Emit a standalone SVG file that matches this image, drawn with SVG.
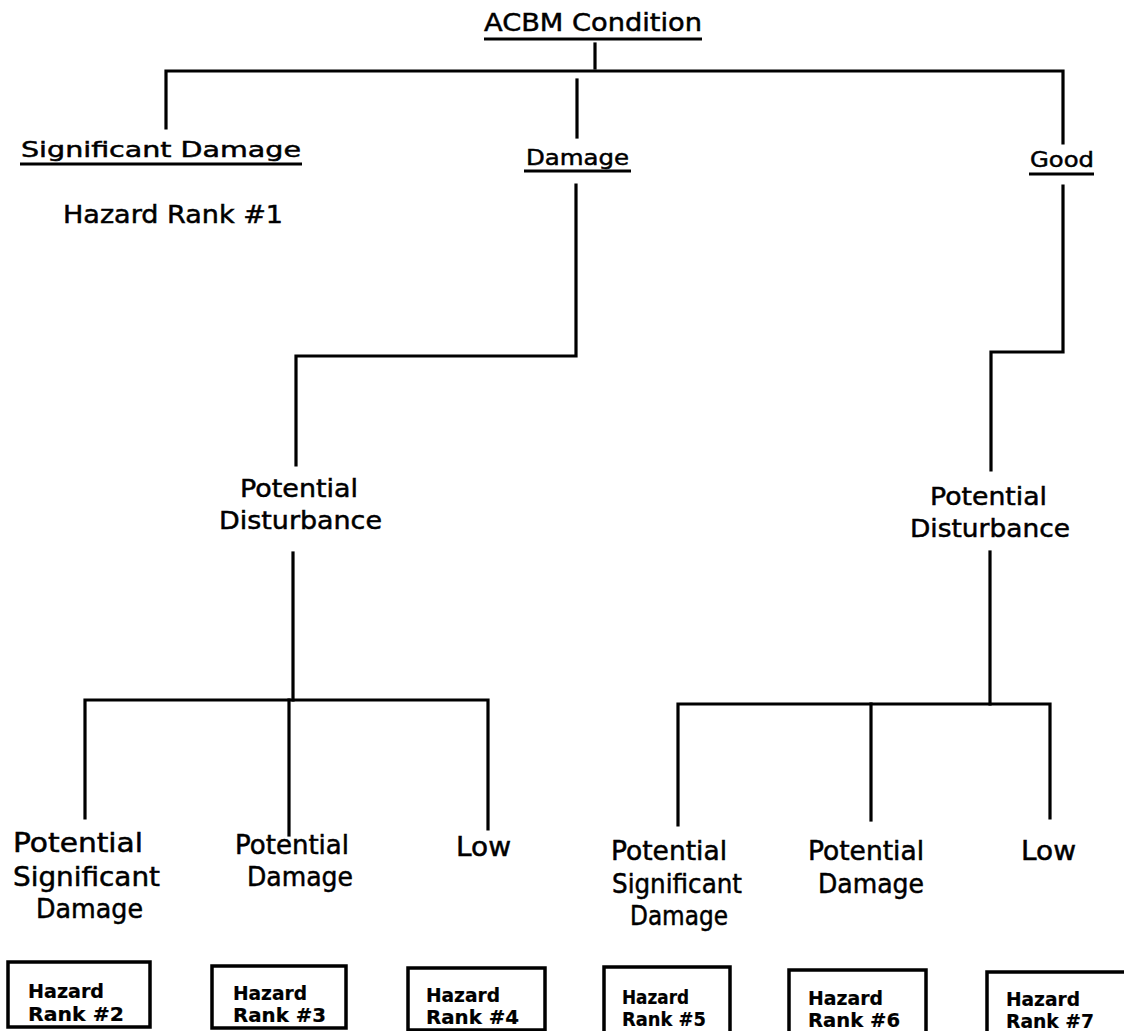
<svg xmlns="http://www.w3.org/2000/svg" width="1124" height="1031" viewBox="0 0 1124 1031">
<style>
.t{font-family:"DejaVu Sans","Liberation Sans",sans-serif;fill:#000;stroke:#000;stroke-width:0.5;}
.h{font-size:25px;}
.s{font-size:22px;}
.m{font-size:25px;}
.l{font-size:26px;}
.b{font-size:19px;font-weight:bold;stroke-width:0.2;}
.ln{fill:none;stroke:#000;stroke-width:3.2;stroke-linecap:square;}
.ul{fill:none;stroke:#000;stroke-width:2.8;}
.box{fill:#fff;stroke:#000;stroke-width:3.5;}
</style>
<rect width="1124" height="1031" fill="#fff"/>
<g id="connectors">
<path class="ln" d="M595 44 V68"/>
<path class="ln" d="M166 128 V71 H1063 V143"/>
<path class="ln" d="M577 80 V137"/>
<path class="ln" d="M576 185 V356 H296 V465"/>
<path class="ln" d="M293 553 V700"/>
<path class="ln" d="M85 818 V700 H488 V829"/>
<path class="ln" d="M289 700 V835"/>
<path class="ln" d="M1063 186 V352 H991 V470"/>
<path class="ln" d="M990 552 V704"/>
<path class="ln" d="M678 825 V704 H1050 V818"/>
<path class="ln" d="M871 704 V820"/>
</g>
<g id="acbm">
<text class="t h" x="484" y="31" textLength="218" lengthAdjust="spacingAndGlyphs">ACBM Condition</text>
<path class="ul" d="M484 39 H702"/>
</g>
<g id="significant-damage">
<text class="t s" x="21" y="157" textLength="280" lengthAdjust="spacingAndGlyphs">Significant Damage</text>
<path class="ul" d="M20 164 H302"/>
</g>
<g id="hazard-rank-1">
<text class="t m" x="63" y="223" textLength="220" lengthAdjust="spacingAndGlyphs">Hazard Rank #1</text>
</g>
<g id="damage">
<text class="t s" x="526" y="165" textLength="103" lengthAdjust="spacingAndGlyphs">Damage</text>
<path class="ul" d="M524 171 H631"/>
</g>
<g id="good">
<text class="t s" x="1030" y="167" textLength="64" lengthAdjust="spacingAndGlyphs">Good</text>
<path class="ul" d="M1029 174 H1094"/>
</g>
<g id="pd-left">
<text class="t m" x="240" y="497" textLength="118" lengthAdjust="spacingAndGlyphs">Potential</text>
<text class="t m" x="219" y="529" textLength="163" lengthAdjust="spacingAndGlyphs">Disturbance</text>
</g>
<g id="pd-right">
<text class="t m" x="930" y="505" textLength="117" lengthAdjust="spacingAndGlyphs">Potential</text>
<text class="t m" x="910" y="537" textLength="160" lengthAdjust="spacingAndGlyphs">Disturbance</text>
</g>
<g id="psd-left">
<text class="t l" x="13" y="852" textLength="130" lengthAdjust="spacingAndGlyphs">Potential</text>
<text class="t l" x="13" y="886" textLength="147" lengthAdjust="spacingAndGlyphs">Significant</text>
<text class="t l" x="36" y="918" textLength="107" lengthAdjust="spacingAndGlyphs">Damage</text>
</g>
<g id="pdam-left">
<text class="t l" x="235" y="854" textLength="114" lengthAdjust="spacingAndGlyphs">Potential</text>
<text class="t l" x="247" y="886" textLength="106" lengthAdjust="spacingAndGlyphs">Damage</text>
</g>
<g id="low-left">
<text class="t l" x="456" y="856" textLength="55" lengthAdjust="spacingAndGlyphs">Low</text>
</g>
<g id="psd-right">
<text class="t l" x="611" y="860" textLength="116" lengthAdjust="spacingAndGlyphs">Potential</text>
<text class="t l" x="612" y="893" textLength="130" lengthAdjust="spacingAndGlyphs">Significant</text>
<text class="t l" x="630" y="925" textLength="98" lengthAdjust="spacingAndGlyphs">Damage</text>
</g>
<g id="pdam-right">
<text class="t l" x="808" y="860" textLength="116" lengthAdjust="spacingAndGlyphs">Potential</text>
<text class="t l" x="818" y="893" textLength="106" lengthAdjust="spacingAndGlyphs">Damage</text>
</g>
<g id="low-right">
<text class="t l" x="1021" y="860" textLength="55" lengthAdjust="spacingAndGlyphs">Low</text>
</g>
<g id="rank2">
<rect class="box" x="8" y="962" width="142" height="65"/>
<text class="t b" x="28" y="998" textLength="76" lengthAdjust="spacingAndGlyphs">Hazard</text>
<text class="t b" x="28" y="1021" textLength="96" lengthAdjust="spacingAndGlyphs">Rank #2</text>
</g>
<g id="rank3">
<rect class="box" x="212" y="966" width="134" height="62"/>
<text class="t b" x="233" y="1000" textLength="74" lengthAdjust="spacingAndGlyphs">Hazard</text>
<text class="t b" x="233" y="1022" textLength="93" lengthAdjust="spacingAndGlyphs">Rank #3</text>
</g>
<g id="rank4">
<rect class="box" x="408" y="968" width="137" height="62"/>
<text class="t b" x="426" y="1002" textLength="74" lengthAdjust="spacingAndGlyphs">Hazard</text>
<text class="t b" x="426" y="1024" textLength="93" lengthAdjust="spacingAndGlyphs">Rank #4</text>
</g>
<g id="rank5">
<rect class="box" x="604" y="967" width="126" height="66"/>
<text class="t b" x="622" y="1004" textLength="67" lengthAdjust="spacingAndGlyphs">Hazard</text>
<text class="t b" x="622" y="1026" textLength="84" lengthAdjust="spacingAndGlyphs">Rank #5</text>
</g>
<g id="rank6">
<rect class="box" x="789" y="970" width="137" height="64"/>
<text class="t b" x="808" y="1005" textLength="75" lengthAdjust="spacingAndGlyphs">Hazard</text>
<text class="t b" x="808" y="1027" textLength="92" lengthAdjust="spacingAndGlyphs">Rank #6</text>
</g>
<g id="rank7">
<rect class="box" x="987" y="972" width="140" height="64"/>
<text class="t b" x="1006" y="1006" textLength="74" lengthAdjust="spacingAndGlyphs">Hazard</text>
<text class="t b" x="1006" y="1028" textLength="88" lengthAdjust="spacingAndGlyphs">Rank #7</text>
</g>
</svg>
